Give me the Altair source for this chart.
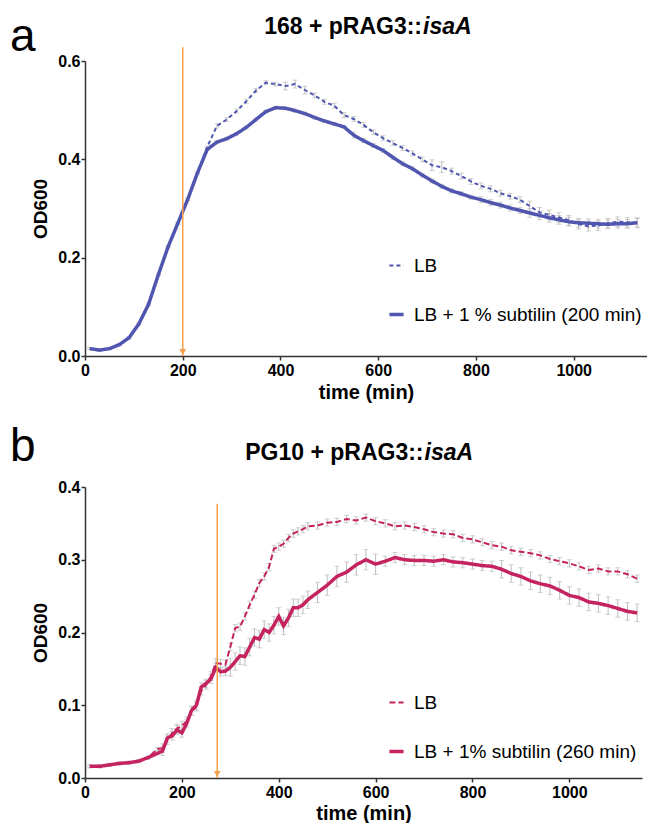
import altair as alt
import pandas as pd

# ---------------- data ----------------
x_ticks = [0, 200, 400, 600, 800, 1000]

# panel a : 168 + pRAG3::isaA
a_time = [10, 30, 50, 70, 90, 110, 130, 150, 170, 190, 210, 230, 250, 270, 290, 310, 330, 350,
          370, 390, 410, 430, 450, 470, 490, 510, 530, 550, 570, 590, 610, 630, 650, 670, 690,
          710, 730, 750, 770, 790, 810, 830, 850, 870, 890, 910, 930, 950, 970, 990, 1010, 1030,
          1050, 1070, 1090, 1110, 1130]
a_sub = [0.015, 0.012, 0.015, 0.023, 0.037, 0.065, 0.105, 0.165, 0.222, 0.270, 0.318, 0.372,
         0.420, 0.435, 0.442, 0.452, 0.465, 0.481, 0.497, 0.505, 0.504, 0.499, 0.493, 0.485,
         0.478, 0.472, 0.466, 0.449, 0.438, 0.428, 0.418, 0.404, 0.391, 0.381, 0.368, 0.356,
         0.345, 0.336, 0.330, 0.323, 0.318, 0.312, 0.307, 0.301, 0.296, 0.291, 0.286, 0.281,
         0.277, 0.273, 0.271, 0.270, 0.269, 0.268, 0.269, 0.269, 0.271]
a_lb = [0.015, 0.012, 0.015, 0.023, 0.037, 0.065, 0.105, 0.165, 0.222, 0.270, 0.318, 0.372,
        0.425, 0.468, 0.481, 0.498, 0.518, 0.540, 0.556, 0.553, 0.549, 0.553, 0.541, 0.530,
        0.517, 0.509, 0.490, 0.482, 0.470, 0.455, 0.443, 0.433, 0.423, 0.412, 0.400, 0.388,
        0.384, 0.376, 0.366, 0.355, 0.346, 0.340, 0.331, 0.325, 0.318, 0.305, 0.292, 0.287,
        0.282, 0.276, 0.268, 0.264, 0.265, 0.270, 0.273, 0.272, 0.271]
a_sub_err = [0.002] * 13 + [0.003] * 14 + [0.006] + [0.004] * 12 + [0.006] * 5 + [0.009] * 12
a_lb_err = [0.002] * 13 + [0.004] * 7 + [0.008] * 3 + [0.005] * 12 + [0.011] * 2 + [0.006] * 8 + [0.010] * 12
a_labels = ["LB", "LB + 1 % subtilin (200 min)"]
a_title = ["168 + pRAG3::", "isaA"]
a_arrow = [200, 0.628]
a_yticks = [0.0, 0.2, 0.4, 0.6]

# panel b : PG10 + pRAG3::isaA
b_time = [10, 30, 50, 70, 90, 110, 130, 150,
          160, 170, 180, 190, 200, 210, 220, 230, 240, 250, 260, 270, 280, 290, 300, 310, 320,
          330, 340, 350, 360, 370, 380, 390, 400, 410, 420, 430, 440, 450, 460,
          480, 500, 520, 540, 560, 580, 600, 620, 640, 660, 680, 700, 720, 740, 760, 780, 800,
          820, 840, 860, 880, 900, 920, 940, 960, 980, 1000, 1020, 1040, 1060, 1080, 1100,
          1120, 1140]
b_sub = [0.016, 0.016, 0.018, 0.020, 0.021, 0.023, 0.028, 0.034,
         0.037, 0.055, 0.058, 0.066, 0.062, 0.075, 0.093, 0.100, 0.125, 0.130, 0.136, 0.152,
         0.146, 0.147, 0.152, 0.160, 0.168, 0.167, 0.180, 0.193, 0.191, 0.204, 0.200, 0.210,
         0.222, 0.209, 0.220, 0.234, 0.234, 0.238, 0.245,
         0.255, 0.265, 0.277, 0.283, 0.293, 0.300, 0.294, 0.298, 0.303, 0.300, 0.299, 0.299,
         0.298, 0.300, 0.297, 0.296, 0.294, 0.292, 0.291, 0.287, 0.281, 0.277, 0.271, 0.267,
         0.264, 0.258, 0.251, 0.248, 0.242, 0.240, 0.237, 0.233, 0.229, 0.227]
b_lb = [0.016, 0.016, 0.018, 0.020, 0.021, 0.023, 0.028, 0.040,
        0.041, 0.052, 0.062, 0.068, 0.072, 0.078, 0.092, 0.098, 0.120, 0.128, 0.140, 0.158,
        0.157, 0.156, 0.180, 0.206, 0.208, 0.222, 0.238, 0.252, 0.268, 0.277, 0.290, 0.315,
        0.318, 0.322, 0.330, 0.336, 0.339, 0.342, 0.346,
        0.347, 0.351, 0.352, 0.356, 0.354, 0.358, 0.353, 0.350, 0.346, 0.347, 0.345, 0.342,
        0.338, 0.336, 0.335, 0.330, 0.328, 0.324, 0.320, 0.318, 0.313, 0.311, 0.309, 0.306,
        0.301, 0.298, 0.295, 0.291, 0.286, 0.288, 0.284, 0.284, 0.280, 0.274]
b_sub_err = [0.002] * 8 + [0.006] * 14 + [0.012] * 17 + [0.014] * 7 + [0.007] * 12 + [0.012] * 15
b_lb_err = [0.002] * 8 + [0.006] * 14 + [0.005] * 51
b_labels = ["LB", "LB + 1% subtilin (260 min)"]
b_title = ["PG10 + pRAG3::", "isaA"]
b_arrow = [273, 0.377]
b_yticks = [0.0, 0.1, 0.2, 0.3, 0.4]

# ---------------- styling ----------------
FONT = "Liberation Sans"
GRAY = "#bdbdbd"
ORANGE = "#f5a04a"
BLUE = "#5056b0"
CRIMSON = "#c42360"


def panel(times, lb, sub, lb_err, sub_err, labels, color, ymax, yticks, arrow, title,
          letter, W, H, dash, dash_w, title_y, letter_y, title_split, xtitle_pad, leg_y):
    rows = []
    for lab, vals, errs in ((labels[0], lb, lb_err), (labels[1], sub, sub_err)):
        for t, v, e in zip(times, vals, errs):
            rows.append({"time": t, "od": v, "lo": v - e, "hi": v + e, "series": lab})
    df = pd.DataFrame(rows)
    caps = pd.concat([df.assign(cap=df["lo"]), df.assign(cap=df["hi"])], ignore_index=True)

    xs = alt.Scale(domain=[0, 1150], nice=False)
    ys = alt.Scale(domain=[0, ymax], nice=False)
    xax = alt.Axis(values=x_ticks, format="d", title="time (min)", labelFlush=False,
                   labelOverlap=False, titlePadding=xtitle_pad)
    yax = alt.Axis(values=yticks, format=".1f", title="OD600", labelFlush=False,
                   labelOverlap=False, titleX=-35)

    bars = alt.Chart(df).mark_rule(color=GRAY, strokeWidth=1).encode(
        x=alt.X("time:Q", scale=xs, axis=xax),
        y=alt.Y("lo:Q", scale=ys, axis=yax),
        y2="hi:Q",
    )
    capm = alt.Chart(caps).mark_tick(orient="horizontal", size=5, thickness=1, color=GRAY).encode(
        x="time:Q", y="cap:Q"
    )
    leg = alt.Legend(title=None, orient="none", legendX=302, legendY=leg_y)
    lines = alt.Chart(df).mark_line().encode(
        x="time:Q",
        y="od:Q",
        color=alt.Color("series:N", scale=alt.Scale(domain=labels, range=[color, color]), legend=leg),
        strokeDash=alt.StrokeDash("series:N", scale=alt.Scale(domain=labels, range=[dash, [1, 0]]),
                                  legend=leg),
        strokeWidth=alt.StrokeWidth("series:N", scale=alt.Scale(domain=labels, range=[dash_w, 3.5]),
                                    legend=leg),
    )
    adf = pd.DataFrame({"time": [arrow[0]], "top": [arrow[1]], "bottom": [0.0]})
    arule = alt.Chart(adf).mark_rule(color=ORANGE, strokeWidth=1.5).encode(
        x="time:Q", y="top:Q", y2="bottom:Q"
    )
    ahead = alt.Chart(adf).mark_point(shape="triangle-down", filled=True, size=45, color=ORANGE,
                                      opacity=1, yOffset=-4).encode(x="time:Q", y="bottom:Q")
    tdf = pd.DataFrame({"a": [title[0]], "b": [title[1]], "l": [letter]})
    t1 = alt.Chart(tdf).mark_text(font=FONT, fontSize=23, fontWeight="bold", align="right",
                                  baseline="middle", color="black").encode(
        x=alt.value(W / 2 + title_split), y=alt.value(title_y), text="a:N")
    t2 = alt.Chart(tdf).mark_text(font=FONT, fontSize=23, fontWeight="bold", fontStyle="italic",
                                  align="left", baseline="middle", color="black").encode(
        x=alt.value(W / 2 + title_split + 1), y=alt.value(title_y), text="b:N")
    t3 = alt.Chart(tdf).mark_text(font=FONT, fontSize=46, fontWeight="normal", align="left",
                                  baseline="alphabetic", color="black").encode(
        x=alt.value(-75), y=alt.value(letter_y), text="l:N")

    return alt.layer(bars, capm, lines, arule, ahead, t1, t2, t3).properties(width=W, height=H)


pa = panel(a_time, a_lb, a_sub, a_lb_err, a_sub_err, a_labels, BLUE, 0.6, a_yticks, a_arrow,
           a_title, "a", 562, 295, [4, 3], 2, -34, -10.5, 56, 4, 195)
pb = panel(b_time, b_lb, b_sub, b_lb_err, b_sub_err, b_labels, CRIMSON, 0.4, b_yticks, b_arrow,
           b_title, "b", 557, 291, [6, 3], 2, -34, -26, 60, 3, 206)

chart = alt.vconcat(pa, pb, spacing=22).resolve_scale(
    x="independent", y="independent", color="independent",
    strokeDash="independent", strokeWidth="independent"
).resolve_legend(color="independent", strokeDash="independent", strokeWidth="independent"
).configure(padding={"left": 2, "top": 5, "right": 0, "bottom": 0}, background="white"
).configure_view(stroke=None).configure_axis(
    grid=False, domainColor="#333333", domainWidth=1.5, tickColor="#333333", tickWidth=1.5,
    tickSize=4, labelFont=FONT, labelFontSize=16, labelFontWeight="bold", labelColor="black",
    labelPadding=1, titleFont=FONT, titleFontWeight="bold", titleColor="black"
).configure_axisX(titleFontSize=20, labelPadding=2).configure_axisY(
    titleFontSize=19
).configure_legend(
    labelFont=FONT, labelFontSize=19, labelColor="black", symbolType="stroke", symbolSize=200,
    rowPadding=29, labelOffset=8, labelLimit=400
)

chart.save("out.html", embed_options={"renderer": "svg", "actions": False})
